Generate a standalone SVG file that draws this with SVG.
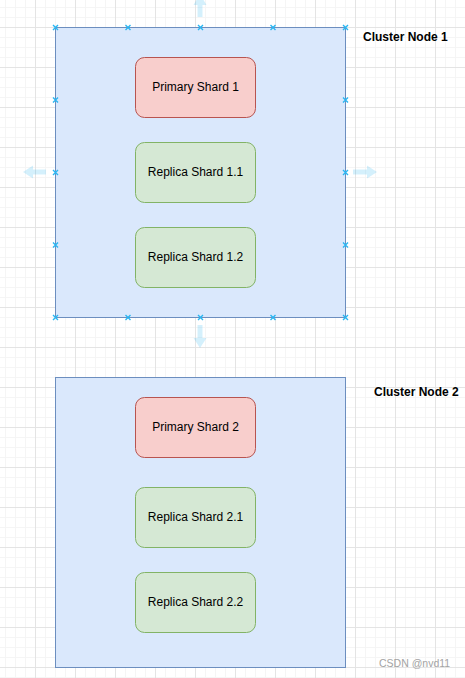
<svg xmlns="http://www.w3.org/2000/svg" width="465" height="678" viewBox="0 0 465 678">
  <defs>
    <pattern id="grid" patternUnits="userSpaceOnUse" x="-5" y="-13" width="40" height="40">
      <rect x="0" y="0" width="40" height="40" fill="#ffffff"/>
      <rect x="10" y="0" width="1" height="40" fill="#f5f5f5"/>
      <rect x="20" y="0" width="1" height="40" fill="#f5f5f5"/>
      <rect x="30" y="0" width="1" height="40" fill="#f5f5f5"/>
      <rect x="0" y="10" width="40" height="1" fill="#f5f5f5"/>
      <rect x="0" y="20" width="40" height="1" fill="#f5f5f5"/>
      <rect x="0" y="30" width="40" height="1" fill="#f5f5f5"/>
      <rect x="0" y="0" width="1" height="40" fill="#e4e4e4"/>
      <rect x="0" y="0" width="40" height="1" fill="#e4e4e4"/>
    </pattern>
    <path id="hx" d="M-2.5,-2.5 L2.5,2.5 M-2.5,2.5 L2.5,-2.5" />
  </defs>
  <style>
    .cluster { fill: #dae8fc; stroke: #6c8ebf; stroke-width: 1; }
    .primary { fill: #f8cecc; stroke: #b85450; stroke-width: 1; }
    .replica { fill: #d5e8d4; stroke: #82b366; stroke-width: 1; }
    .lbl { font-family: "Liberation Sans", Arial, sans-serif; font-size: 12px; fill: #000000; text-anchor: middle; }
    .title { font-family: "Liberation Sans", Arial, sans-serif; font-size: 12px; font-weight: bold; fill: #000000; }
    .handle use { stroke: #29b6f2; stroke-width: 1.4; fill: none; }
    .arrow { fill: #29b6f2; fill-opacity: 0.2; }
    .wm { font-family: "Liberation Sans", Arial, sans-serif; font-size: 10.5px; fill: #a3a3a3; }
  </style>

  <rect x="0" y="0" width="465" height="678" fill="url(#grid)"/>

  <g id="cluster-node-1">
    <rect class="cluster" x="55.5" y="27.5" width="290" height="290"/>
    <text class="title" x="363" y="41">Cluster Node 1</text>
  </g>
  <g id="primary-shard-1">
    <rect class="primary" x="135.5" y="57.5" width="120" height="60" rx="9" ry="9"/>
    <text class="lbl" x="195.5" y="91">Primary Shard 1</text>
  </g>
  <g id="replica-shard-1-1">
    <rect class="replica" x="135.5" y="142.5" width="120" height="60" rx="9" ry="9"/>
    <text class="lbl" x="195.5" y="176">Replica Shard 1.1</text>
  </g>
  <g id="replica-shard-1-2">
    <rect class="replica" x="135.5" y="227.5" width="120" height="60" rx="9" ry="9"/>
    <text class="lbl" x="195.5" y="261">Replica Shard 1.2</text>
  </g>

  <g id="cluster-node-2">
    <rect class="cluster" x="55.5" y="377.5" width="290" height="290"/>
    <text class="title" x="374" y="396">Cluster Node 2</text>
  </g>
  <g id="primary-shard-2">
    <rect class="primary" x="135.5" y="397.5" width="120" height="60" rx="9" ry="9"/>
    <text class="lbl" x="195.5" y="431">Primary Shard 2</text>
  </g>
  <g id="replica-shard-2-1">
    <rect class="replica" x="135.5" y="487.5" width="120" height="60" rx="9" ry="9"/>
    <text class="lbl" x="195.5" y="521">Replica Shard 2.1</text>
  </g>
  <g id="replica-shard-2-2">
    <rect class="replica" x="135.5" y="572.5" width="120" height="60" rx="9" ry="9"/>
    <text class="lbl" x="195.5" y="606">Replica Shard 2.2</text>
  </g>

  <g id="connectors"></g>

  <g id="hover-arrows">
    <path class="arrow" d="M197.5,17 L197.5,5 L193.5,5 L200,-6 L206.5,5 L202.5,5 L202.5,17 Z"/>
    <path class="arrow" d="M197.5,325 L197.5,338 L193.5,338 L200,348 L206.5,338 L202.5,338 L202.5,325 Z"/>
    <path class="arrow" d="M46,169.5 L33,169.5 L33,165.5 L23,172 L33,178.5 L33,174.5 L46,174.5 Z"/>
    <path class="arrow" d="M353,169.5 L367,169.5 L367,165.5 L377,172 L367,178.5 L367,174.5 L353,174.5 Z"/>
  </g>

  <g id="selection-handles" class="handle">
    <use href="#hx" x="55.5" y="27.5"/>
    <use href="#hx" x="128" y="27.5"/>
    <use href="#hx" x="200.5" y="27.5"/>
    <use href="#hx" x="273" y="27.5"/>
    <use href="#hx" x="345.5" y="27.5"/>
    <use href="#hx" x="55.5" y="100"/>
    <use href="#hx" x="345.5" y="100"/>
    <use href="#hx" x="55.5" y="172.5"/>
    <use href="#hx" x="345.5" y="172.5"/>
    <use href="#hx" x="55.5" y="245"/>
    <use href="#hx" x="345.5" y="245"/>
    <use href="#hx" x="55.5" y="317.5"/>
    <use href="#hx" x="128" y="317.5"/>
    <use href="#hx" x="200.5" y="317.5"/>
    <use href="#hx" x="273" y="317.5"/>
    <use href="#hx" x="345.5" y="317.5"/>
  </g>

  <text class="wm" x="379" y="667">CSDN @nvd11</text>
</svg>
